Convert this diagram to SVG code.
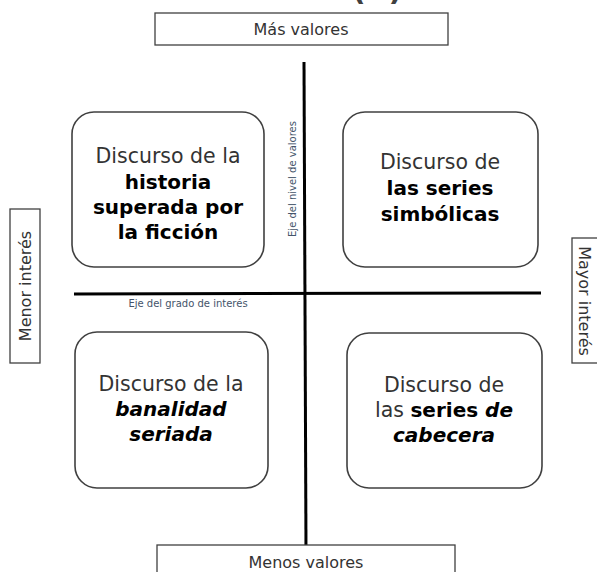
<svg xmlns="http://www.w3.org/2000/svg" width="597" height="572" viewBox="0 0 597 572">
  <style>
    .card { fill: #ffffff; stroke: #404040; stroke-width: 1.6; }
    .tag { fill: #ffffff; stroke: #404040; stroke-width: 1.3; }
    .axis { stroke: #000000; stroke-width: 3; fill: none; }
    .t { font-family: "DejaVu Sans", "Liberation Sans", sans-serif; fill: #333333; text-anchor: middle; }
    .q { font-size: 20.5px; }
    .b { font-weight: bold; fill: #000000; font-size: 20px; }
    .i { font-style: italic; }
    .lab { font-size: 16px; }
    .ax { font-family: "DejaVu Sans", "Liberation Sans", sans-serif; font-size: 10px; fill: #44546A; text-anchor: middle; }
    .hdr { font-family: "DejaVu Sans", sans-serif; font-size: 30px; font-weight: bold; fill: #404040; }
  </style>

  <!-- heading, mostly outside the top edge -->
  <text class="hdr" x="352" y="0">(B)</text>

  <!-- axes -->
  <g id="connectors">
    <line class="axis" x1="304" y1="62" x2="306" y2="552"/>
    <line class="axis" x1="74" y1="294" x2="541" y2="293"/>
    <text class="ax" transform="translate(296,179) rotate(-90)">Eje del nivel de valores</text>
    <text class="ax" x="188" y="307">Eje del grado de interés</text>
  </g>

  <!-- pole labels -->
  <g id="mas-valores">
    <rect class="tag" x="155" y="13" width="293" height="32"/>
    <text class="t lab" x="301" y="35">Más valores</text>
  </g>
  <g id="menos-valores">
    <rect class="tag" x="157" y="545" width="298" height="40"/>
    <text class="t lab" x="306" y="568">Menos valores</text>
  </g>
  <g id="menor-interes">
    <rect class="tag" x="10" y="209" width="30" height="154"/>
    <text class="t lab" transform="translate(31,286) rotate(-90)">Menor interés</text>
  </g>
  <g id="mayor-interes">
    <rect class="tag" x="572" y="238" width="40" height="125"/>
    <text class="t lab" transform="translate(579,301) rotate(90)">Mayor interés</text>
  </g>

  <!-- quadrants -->
  <g id="historia-superada">
    <rect class="card" x="72" y="112" width="192" height="155" rx="22"/>
    <text class="t q" x="168" y="163">Discurso de la</text>
    <text class="t q b" x="168" y="189">historia</text>
    <text class="t q b" x="168" y="214">superada por</text>
    <text class="t q b" x="168" y="239">la ficción</text>
  </g>
  <g id="series-simbolicas">
    <rect class="card" x="343" y="112" width="195" height="155" rx="22"/>
    <text class="t q" x="440" y="169">Discurso de</text>
    <text class="t q b" x="440" y="195">las series</text>
    <text class="t q b" x="440" y="221">simbólicas</text>
  </g>
  <g id="banalidad-seriada">
    <rect class="card" x="75" y="332" width="193" height="156" rx="22"/>
    <text class="t q" x="171" y="391">Discurso de la</text>
    <text class="t q b i" x="171" y="416">banalidad</text>
    <text class="t q b i" x="171" y="441">seriada</text>
  </g>
  <g id="series-cabecera">
    <rect class="card" x="347" y="333" width="195" height="155" rx="22"/>
    <text class="t q" x="444" y="392">Discurso de</text>
    <text class="t q" x="444" y="417">las <tspan class="b">series <tspan class="i">de</tspan></tspan></text>
    <text class="t q b i" x="444" y="442">cabecera</text>
  </g>
</svg>
